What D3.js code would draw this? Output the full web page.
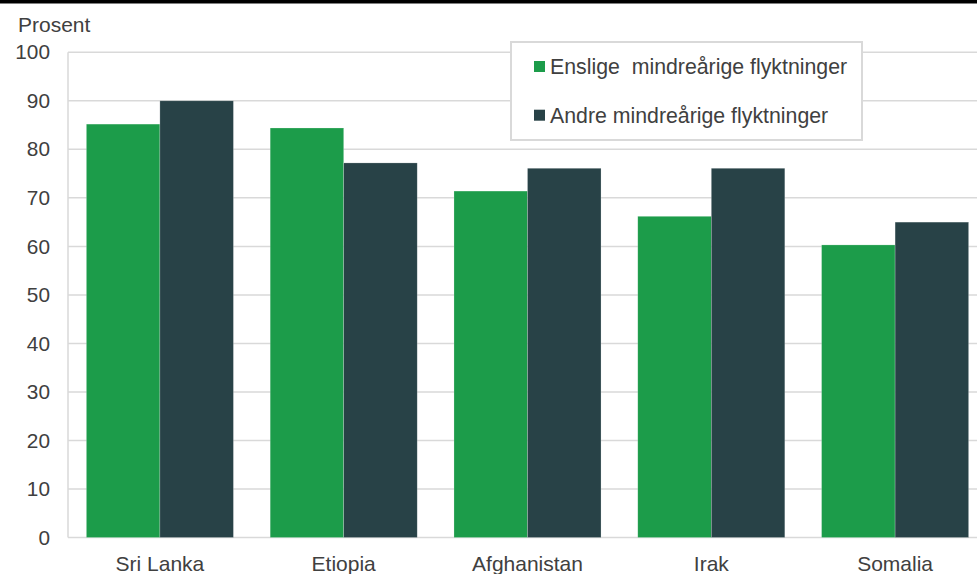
<!DOCTYPE html>
<html><head><meta charset="utf-8">
<script src="https://cdn.jsdelivr.net/npm/d3@7"></script>
<style>
html,body{margin:0;padding:0;background:#fff;}
svg{display:block;font-family:Arial,"Liberation Sans",sans-serif;}
text{white-space:pre;}
</style></head>
<body>
<svg id="chart" width="977" height="574"></svg>
<script>
const categories = ["Sri Lanka","Etiopia","Afghanistan","Irak","Somalia"];
const seriesNames = ["Enslige  mindreårige flyktninger","Andre mindreårige flyktninger"];
const enslige = [85.2, 84.4, 71.4, 66.2, 60.3];
const andre = [90.0, 77.2, 76.1, 76.1, 65.0];
const yTicks = [0,10,20,30,40,50,60,70,80,90,100];
const colors = ["#1c9c4a","#284247"];
const seriesValues = [enslige, andre];

const svg = d3.select("#chart");
const W = 977, H = 574;
const mLeft = 68, mRight = 987, mTop = 52.3, mBottom = 537.5;
const textColor = "#404040";
const gridColor = "#d9d9d9";
const ff = "Arial, 'Liberation Sans', sans-serif";

svg.append("rect").attr("x",0).attr("y",0).attr("width",W).attr("height",3.5).attr("fill","#000");

const y = d3.scaleLinear().domain([0,100]).range([mBottom, mTop]);
const x = d3.scaleBand().domain(categories).range([mLeft, mRight]).paddingInner(0.2).paddingOuter(0.1);
const xs = d3.scaleBand().domain(seriesNames).range([0, x.bandwidth()]).padding(0);

// gridlines
svg.append("g").selectAll("line").data(yTicks).join("line")
  .attr("x1", mLeft).attr("x2", W)
  .attr("y1", d => y(d)).attr("y2", d => y(d))
  .attr("stroke", gridColor).attr("stroke-width", 1.5);
// left axis line
svg.append("line").attr("x1",mLeft).attr("x2",mLeft).attr("y1",mTop).attr("y2",mBottom)
  .attr("stroke",gridColor).attr("stroke-width",1.5);

// y axis labels
const yAxis = d3.axisLeft(y).tickValues(yTicks).tickSize(0).tickPadding(18);
const gy = svg.append("g").attr("transform",`translate(${mLeft},0)`).call(yAxis);
gy.select(".domain").remove();
gy.selectAll("text").attr("fill",textColor).style("font-size","20.8px").style("font-family",ff);

// x axis labels
const xAxis = d3.axisBottom(x).tickSize(0).tickPadding(19);
const gx = svg.append("g").attr("transform",`translate(0,${mBottom})`).call(xAxis);
gx.select(".domain").remove();
gx.selectAll("text").attr("fill",textColor).style("font-size","21px").style("font-family",ff);

// bars
const groups = svg.append("g").selectAll("g").data(categories).join("g")
  .attr("transform", d => `translate(${x(d)},0)`);
groups.selectAll("rect").data((c,i) => seriesNames.map((s,j) => ({s, v: seriesValues[j][i], j})))
  .join("rect")
  .attr("x", d => xs(d.s))
  .attr("width", xs.bandwidth())
  .attr("y", d => y(d.v))
  .attr("height", d => y(0) - y(d.v))
  .attr("fill", d => colors[d.j])
  .attr("stroke", "rgba(255,255,255,0.35)").attr("stroke-width", 0.6);

// Prosent label
svg.append("text").attr("x",18).attr("y",32).attr("fill",textColor)
  .style("font-size","21px").text("Prosent");

// legend
const lg = svg.append("g");
lg.append("rect").attr("x",511).attr("y",42).attr("width",351).attr("height",98)
  .attr("fill","#fff").attr("stroke",gridColor).attr("stroke-width",2);
const rows = [74, 122.7];
seriesNames.forEach((s,i) => {
  lg.append("rect").attr("x",534).attr("y",rows[i]-13).attr("width",11).attr("height",11).attr("fill",colors[i]);
  lg.append("text").attr("x",550).attr("y",rows[i]).attr("fill",textColor)
    .style("font-size","21.3px").text(s);
});
</script>
</body></html>
